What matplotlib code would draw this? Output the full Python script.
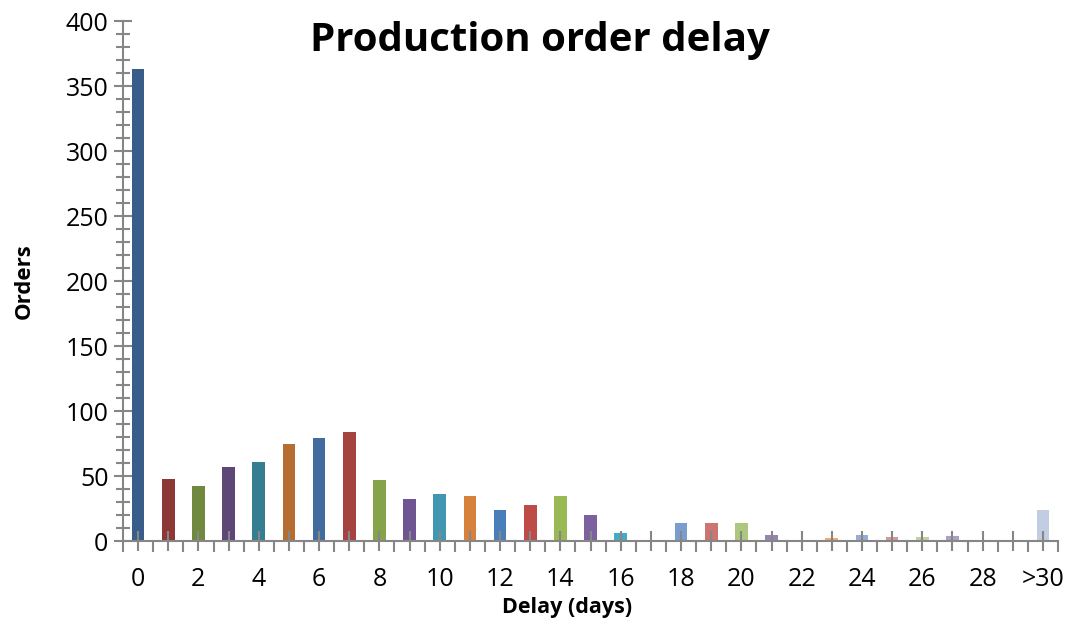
import numpy as np
import matplotlib.pyplot as plt
from matplotlib.ticker import MultipleLocator, FixedLocator

# delay categories and number of orders per category
categories = [str(i) for i in range(30)] + ['>30']
orders = [363, 48, 42, 57, 61, 75, 79, 84, 47, 32,
          36, 35, 24, 28, 35, 20, 6, 0, 14, 14,
          14, 5, 1, 2, 5, 3, 3, 4, 0, 1, 24]

# Excel-like "vary colors by point" palette
colors = ['#385d8a', '#8c3836', '#71893f', '#5c4776', '#357d91', '#b66d31',
          '#426ca0', '#a54340', '#86a24b', '#6f5592', '#4197b2', '#d7823c',
          '#4a7ebb', '#be4b48', '#98b954', '#7d60a0', '#46aac5', '#f79646',
          '#7a9dd0', '#cd7371', '#adc87e', '#9683b3', '#71bdd3', '#f9a86b',
          '#95aed6', '#d69795', '#bfd39e', '#ada0c3', '#9cd1e0', '#f9c29c',
          '#c2cde3']

plt.rcParams['font.family'] = ['Open Sans', 'DejaVu Sans']

fig = plt.figure(figsize=(10.67, 6.2), dpi=100)
ax = fig.add_axes([0.1153, 0.1274, 0.8763, 0.8387])

x = np.arange(len(categories))
ax.bar(x, orders, width=0.42, color=colors, zorder=1)

ax.set_xlim(-0.5, len(categories) - 0.5)
ax.set_ylim(0, 400)

axis_grey = '#868686'
for side in ['top', 'right']:
    ax.spines[side].set_visible(False)
for side in ['left', 'bottom']:
    ax.spines[side].set_color(axis_grey)
    ax.spines[side].set_linewidth(1.5)
    ax.spines[side].set_zorder(3)

# y axis: major every 50, minor every 10
ax.yaxis.set_major_locator(MultipleLocator(50))
ax.yaxis.set_minor_locator(MultipleLocator(10))
ax.tick_params(axis='y', which='major', direction='inout', length=13, width=1.5,
               color=axis_grey, labelsize=18, pad=4)
ax.tick_params(axis='y', which='minor', direction='inout', length=10, width=1.5,
               color=axis_grey)

# x axis: labels at every other category centre, boundary ticks below
ax.set_xticks(x)
ax.set_xticklabels([c if i % 2 == 0 else '' for i, c in enumerate(categories)])
ax.xaxis.set_minor_locator(FixedLocator(np.arange(-0.5, len(categories), 1.0)))
ax.tick_params(axis='x', which='major', direction='inout', length=14, width=1.5,
               color=axis_grey, labelsize=18, pad=12)
ax.tick_params(axis='x', which='minor', direction='out', length=8, width=1.5,
               color=axis_grey)

ax.set_ylabel('Orders', fontsize=16, fontweight='bold', labelpad=22)
ax.set_xlabel('Delay (days)', fontsize=15.5, fontweight='bold')
ax.xaxis.set_label_coords(0.475, -0.108)

fig.text(0.506, 0.935, 'Production order delay', fontsize=29, fontweight='bold',
         ha='center', va='center')

fig.savefig('out.png', dpi=100)
